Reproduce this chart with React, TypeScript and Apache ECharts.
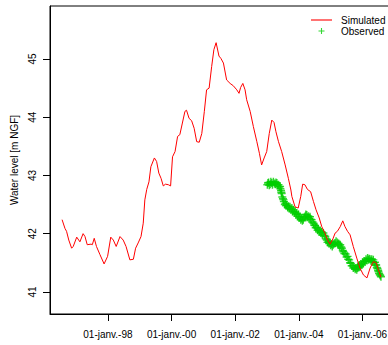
import { useEffect, useRef } from "react";
import * as echarts from "echarts";

// Simulated water level (decimal year, m NGF)
const simYears = [
  1996.56, 1996.65, 1996.70, 1996.77, 1996.86, 1996.91, 1997.02, 1997.12, 1997.22, 1997.28,
  1997.35, 1997.47, 1997.51, 1997.57, 1997.64, 1997.75, 1997.88, 1997.99, 1998.09, 1998.17,
  1998.26, 1998.38, 1998.48, 1998.57, 1998.69, 1998.80, 1998.87, 1998.95, 1999.04, 1999.11,
  1999.16, 1999.22, 1999.29, 1999.35, 1999.46, 1999.53, 1999.60, 1999.67, 1999.74, 1999.81,
  1999.90, 1999.97, 2000.03, 2000.11, 2000.19, 2000.26, 2000.34, 2000.42, 2000.47, 2000.55,
  2000.63, 2000.71, 2000.79, 2000.87, 2000.95, 2001.03, 2001.10, 2001.18, 2001.26, 2001.33,
  2001.40, 2001.49, 2001.55, 2001.63, 2001.73, 2001.84, 2001.94, 2002.05, 2002.12, 2002.17,
  2002.24, 2002.31, 2002.36, 2002.47, 2002.57, 2002.68, 2002.76, 2002.83, 2002.91, 2002.99,
  2003.07, 2003.15, 2003.22, 2003.28, 2003.36, 2003.46, 2003.57, 2003.67, 2003.75, 2003.78,
  2003.88, 2003.98, 2004.06, 2004.12, 2004.19, 2004.27, 2004.37, 2004.46, 2004.54, 2004.64,
  2004.72, 2004.82, 2004.90, 2004.98, 2005.07, 2005.14, 2005.21, 2005.30, 2005.38, 2005.45,
  2005.53, 2005.61, 2005.71, 2005.82, 2005.92, 2006.03, 2006.14, 2006.24, 2006.34, 2006.43,
  2006.50, 2006.58,
];
const simLevels = [
  42.24, 42.09, 42.04, 41.89, 41.75, 41.78, 41.94, 41.86, 42.00, 41.95,
  41.81, 41.82, 41.81, 41.92, 41.78, 41.64, 41.48, 41.61, 41.94, 41.89,
  41.78, 41.95, 41.89, 41.78, 41.55, 41.56, 41.75, 41.84, 41.95, 42.18,
  42.58, 42.76, 42.89, 43.15, 43.30, 43.24, 43.04, 42.95, 42.82, 42.85,
  42.84, 42.82, 43.32, 43.41, 43.67, 43.70, 43.90, 44.10, 44.12, 43.98,
  43.94, 43.81, 43.58, 43.57, 43.72, 44.10, 44.47, 44.50, 44.87, 45.16,
  45.28, 45.05, 45.01, 44.93, 44.64, 44.58, 44.54, 44.47, 44.41, 44.51,
  44.58, 44.47, 44.30, 44.10, 43.84, 43.58, 43.38, 43.18, 43.30, 43.41,
  43.72, 43.95, 43.91, 43.75, 43.58, 43.41, 43.18, 42.95, 42.75, 42.64,
  42.46, 42.44, 42.64, 42.85, 42.84, 42.76, 42.72, 42.55, 42.41, 42.27,
  42.12, 42.01, 41.89, 41.82, 41.91, 42.01, 42.04, 42.12, 42.22, 42.12,
  42.04, 41.98, 41.78, 41.58, 41.41, 41.29, 41.24, 41.41, 41.52, 41.50,
  41.38, 41.25,
];

// Observed water level (decimal year, m NGF)
const obsYears = [
  2003.01, 2003.03, 2003.05, 2003.07, 2003.10, 2003.12, 2003.15, 2003.17, 2003.20, 2003.23,
  2003.26, 2003.28, 2003.31, 2003.33, 2003.36, 2003.38, 2003.41, 2003.42, 2003.44, 2003.45,
  2003.46, 2003.48, 2003.50, 2003.52, 2003.53, 2003.56, 2003.58, 2003.60, 2003.62, 2003.65,
  2003.67, 2003.70, 2003.72, 2003.75, 2003.78, 2003.80, 2003.83, 2003.86, 2003.88, 2003.91,
  2003.93, 2003.96, 2003.99, 2004.01, 2004.04, 2004.06, 2004.09, 2004.11, 2004.14, 2004.17,
  2004.20, 2004.22, 2004.25, 2004.27, 2004.30, 2004.32, 2004.35, 2004.37, 2004.40, 2004.43,
  2004.46, 2004.48, 2004.51, 2004.53, 2004.56, 2004.59, 2004.61, 2004.64, 2004.67, 2004.69,
  2004.72, 2004.74, 2004.77, 2004.80, 2004.83, 2004.85, 2004.88, 2004.90, 2004.93, 2004.95,
  2004.98, 2005.00, 2005.03, 2005.05, 2005.08, 2005.11, 2005.14, 2005.17, 2005.21, 2005.23,
  2005.25, 2005.28, 2005.30, 2005.33, 2005.35, 2005.38, 2005.40, 2005.43, 2005.47, 2005.50,
  2005.53, 2005.55, 2005.58, 2005.61, 2005.63, 2005.66, 2005.69, 2005.71, 2005.74, 2005.77,
  2005.79, 2005.82, 2005.84, 2005.86, 2005.88, 2005.90, 2005.92, 2005.95, 2005.98, 2006.00,
  2006.03, 2006.05, 2006.08, 2006.11, 2006.14, 2006.16, 2006.19, 2006.21, 2006.24, 2006.27,
  2006.29, 2006.32, 2006.34, 2006.37, 2006.39, 2006.41, 2006.43, 2006.45, 2006.47, 2006.49,
  2006.50, 2006.52, 2006.54, 2006.56, 2006.58,
];
const obsLevels = [
  42.84, 42.87, 42.88, 42.83, 42.85, 42.89, 42.87, 42.84, 42.89, 42.86,
  42.85, 42.88, 42.87, 42.83, 42.84, 42.80, 42.81, 42.77, 42.74, 42.71,
  42.69, 42.63, 42.60, 42.58, 42.55, 42.50, 42.52, 42.48, 42.49, 42.45,
  42.47, 42.43, 42.46, 42.41, 42.44, 42.38, 42.41, 42.36, 42.38, 42.33,
  42.35, 42.30, 42.33, 42.27, 42.29, 42.24, 42.26, 42.22, 42.24, 42.28,
  42.30, 42.33, 42.32, 42.28, 42.30, 42.26, 42.29, 42.25, 42.24, 42.20,
  42.18, 42.15, 42.14, 42.10, 42.11, 42.06, 42.08, 42.03, 42.05, 42.01,
  42.03, 41.98, 42.01, 41.97, 41.95, 41.91, 41.89, 41.85, 41.87, 41.83,
  41.85, 41.80, 41.82, 41.78, 41.81, 41.83, 41.84, 41.87, 41.85, 41.81,
  41.83, 41.79, 41.81, 41.77, 41.75, 41.71, 41.69, 41.66, 41.65, 41.60,
  41.61, 41.56, 41.55, 41.50, 41.49, 41.45, 41.45, 41.41, 41.42, 41.39,
  41.41, 41.38, 41.41, 41.44, 41.42, 41.46, 41.43, 41.48, 41.46, 41.51,
  41.49, 41.53, 41.52, 41.56, 41.54, 41.58, 41.55, 41.57, 41.56, 41.53,
  41.56, 41.52, 41.55, 41.50, 41.51, 41.46, 41.46, 41.42, 41.40, 41.37,
  41.35, 41.32, 41.30, 41.28, 41.26,
];

const xTickYears = [1998, 2000, 2002, 2004, 2006];
const yTicks = [41, 42, 43, 44, 45];
const seriesNames = ["Simulated", "Observed"];
const yTitle = "Water level [m NGF]";

const PLUS = "path://M4.1,0H5.9V4.1H10V5.9H5.9V10H4.1V5.9H0V4.1H4.1Z";
const LINE_ICON = "path://M0,0H21V1.1H0Z";
const FONT = "'Liberation Sans', Arial, Helvetica, sans-serif";

export default function App() {
  const ref = useRef<HTMLDivElement>(null);

  useEffect(() => {
    if (!ref.current) return;
    const chart = echarts.init(ref.current, undefined, { renderer: "svg" });
    const simData = simYears.map((x, i) => [x, simLevels[i]]);
    const obsData = obsYears.map((x, i) => [x, obsLevels[i]]);
    chart.setOption({
      animation: false,
      textStyle: { fontFamily: FONT },
      grid: {
        left: 50,
        right: 6,
        top: 6,
        bottom: 31,
        show: true,
        borderColor: "#000",
        borderWidth: 1,
        backgroundColor: "transparent",
      },
      legend: {
        orient: "vertical",
        left: 311,
        top: 15,
        padding: 0,
        itemGap: 1,
        itemWidth: 21,
        itemHeight: 6,
        textStyle: { fontSize: 10, color: "#000", fontFamily: FONT, padding: [0, 0, 0, 4] },
        data: [
          { name: seriesNames[0], icon: LINE_ICON, itemStyle: { color: "#FF0000" } },
          { name: seriesNames[1], icon: PLUS, itemStyle: { color: "#00CD00" } },
        ],
      },
      xAxis: {
        type: "value",
        min: 1996.18,
        max: 2006.99,
        axisLine: { show: true, onZero: false, lineStyle: { color: "#000", width: 1 } },
        axisTick: { show: true, length: 7, customValues: xTickYears, lineStyle: { color: "#000" } },
        axisLabel: {
          customValues: xTickYears,
          formatter: (v: number) => "01-janv.-" + String(Math.round(v) % 100).padStart(2, "0"),
          fontSize: 10,
          color: "#000",
          margin: 15,
          fontFamily: FONT,
        },
        splitLine: { show: false },
      },
      yAxis: {
        type: "value",
        min: 40.62,
        max: 45.91,
        name: yTitle,
        nameLocation: "middle",
        nameGap: 30,
        nameRotate: 90,
        nameTextStyle: { fontSize: 10, color: "#000", fontFamily: FONT },
        axisLine: { show: true, onZero: false, lineStyle: { color: "#000", width: 1 } },
        axisTick: { show: true, length: 7, customValues: yTicks, lineStyle: { color: "#000" } },
        axisLabel: {
          customValues: yTicks,
          rotate: 90,
          formatter: (v: number) => String(v),
          fontSize: 10,
          color: "#000",
          margin: 13,
          fontFamily: FONT,
        },
        splitLine: { show: false },
      },
      series: [
        {
          name: seriesNames[1],
          type: "scatter",
          data: obsData,
          symbol: PLUS,
          symbolSize: 8,
          itemStyle: { color: "#00CD00" },
          z: 2,
        },
        {
          name: seriesNames[0],
          type: "line",
          data: simData,
          symbol: "none",
          showSymbol: false,
          lineStyle: { color: "#FF0000", width: 1 },
          itemStyle: { color: "#FF0000" },
          z: 3,
        },
      ],
    });
    return () => chart.dispose();
  }, []);

  return (
    <div style={{ position: "fixed", left: 0, top: 0, width: 388, height: 345, overflow: "hidden", background: "#fff" }}>
      <div ref={ref} style={{ width: 400, height: 345 }} />
    </div>
  );
}
